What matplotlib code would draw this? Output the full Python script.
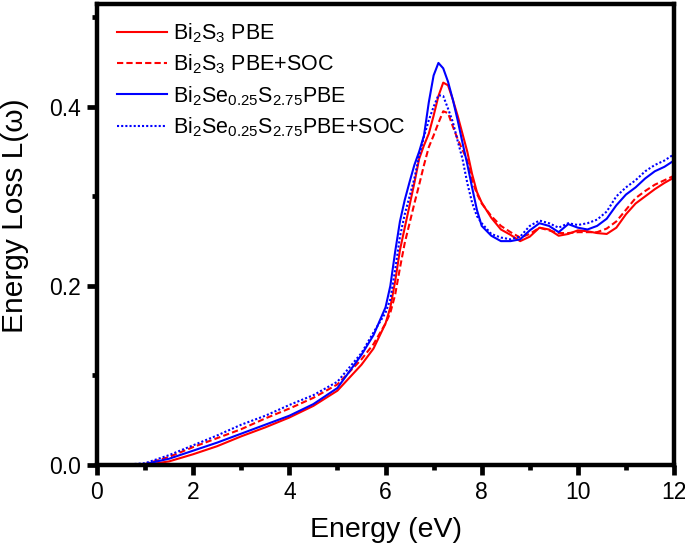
import numpy as np
import matplotlib
matplotlib.use("Agg")
import matplotlib.pyplot as plt

plt.rcParams['font.family'] = ['Liberation Sans', 'DejaVu Sans']
plt.rcParams['mathtext.fontset'] = 'custom'
plt.rcParams['mathtext.rm'] = 'Liberation Sans'
plt.rcParams['mathtext.it'] = 'Liberation Sans'

# energy grid (eV)
energy = [0.0, 0.5, 1.0, 1.5, 2.0, 2.5, 3.0, 3.5, 4.0, 4.5, 5.0, 5.5, 5.75,
          6.0, 6.1, 6.2, 6.3, 6.4, 6.5, 6.6, 6.7, 6.8, 6.9, 7.0, 7.1, 7.2,
          7.3, 7.4, 7.5, 7.6, 7.7, 7.8, 7.9, 8.0,
          8.2, 8.4, 8.6, 8.8, 9.0, 9.2, 9.4, 9.6, 9.8, 10.0, 10.2, 10.4,
          10.6, 10.8, 11.0, 11.2, 11.4, 11.6, 11.8, 12.0]

bi2s3_pbe = [0.0, 0.0, 0.0, 0.004, 0.012, 0.021, 0.032, 0.042, 0.053, 0.066,
             0.083, 0.112, 0.130,
             0.158, 0.176, 0.205, 0.240, 0.265, 0.290, 0.315, 0.342, 0.357,
             0.370, 0.390, 0.412, 0.427, 0.424, 0.408, 0.390, 0.370, 0.350,
             0.325, 0.305, 0.293,
             0.276, 0.263, 0.257, 0.250, 0.255, 0.265, 0.263, 0.256, 0.258,
             0.262, 0.261, 0.259, 0.258, 0.265, 0.280, 0.292, 0.300, 0.308,
             0.315, 0.321]

bi2s3_soc = [0.0, 0.0, 0.001, 0.009, 0.020, 0.030, 0.040, 0.052, 0.063, 0.075,
             0.090, 0.118, 0.135,
             0.158, 0.170, 0.190, 0.220, 0.248, 0.270, 0.292, 0.313, 0.335,
             0.355, 0.368, 0.382, 0.395, 0.393, 0.378, 0.364, 0.352, 0.340,
             0.318, 0.303, 0.292,
             0.278, 0.267, 0.260, 0.254, 0.258, 0.265, 0.262, 0.259, 0.259,
             0.260, 0.260, 0.260, 0.264, 0.272, 0.285, 0.298, 0.306, 0.313,
             0.318, 0.323]

bi2ses_pbe = [0.0, 0.0, 0.001, 0.007, 0.016, 0.025, 0.035, 0.045, 0.055, 0.068,
              0.086, 0.123, 0.145,
              0.176, 0.200, 0.238, 0.272, 0.296, 0.316, 0.335, 0.350, 0.368,
              0.405, 0.435, 0.449, 0.443, 0.428, 0.408, 0.385, 0.360, 0.336,
              0.310, 0.285, 0.267,
              0.256, 0.250, 0.250, 0.252, 0.262, 0.270, 0.267, 0.260, 0.269,
              0.265, 0.263, 0.267, 0.275, 0.290, 0.302, 0.310, 0.320, 0.328,
              0.333, 0.340]

bi2ses_soc = [0.0, 0.0, 0.002, 0.011, 0.022, 0.033, 0.045, 0.055, 0.067, 0.078,
              0.093, 0.125, 0.148,
              0.170, 0.185, 0.218, 0.255, 0.280, 0.300, 0.320, 0.345, 0.367,
              0.385, 0.400, 0.413, 0.412, 0.398, 0.383, 0.362, 0.342, 0.315,
              0.293, 0.278, 0.270,
              0.258, 0.254, 0.252, 0.255, 0.267, 0.273, 0.270, 0.265, 0.270,
              0.268, 0.270, 0.274, 0.283, 0.300, 0.310, 0.318, 0.328, 0.335,
              0.340, 0.347]

labels = [r'Bi$_{2}$S$_{3}$ PBE', r'Bi$_{2}$S$_{3}$ PBE+SOC',
          r'Bi$_{2}$Se$_{0.25}$S$_{2.75}$PBE', r'Bi$_{2}$Se$_{0.25}$S$_{2.75}$PBE+SOC']

fig = plt.figure(figsize=(6.85, 5.48), dpi=100)
ax = fig.add_axes([0.1416, 0.1515, 0.8424, 0.8415])

ax.plot(energy, bi2s3_pbe, color='#ff0000', lw=1.5, label=labels[0])
ax.plot(energy, bi2s3_soc, color='#ff0000', lw=1.5, ls=(0, (3, 1.5)), label=labels[1])
ax.plot(energy, bi2ses_pbe, color='#0000ff', lw=1.5, label=labels[2])
ax.plot(energy, bi2ses_soc, color='#0000ff', lw=1.5, ls=(0, (1, 1)), label=labels[3])

ax.set_xlim(0, 12)
ax.set_ylim(0, 0.515)
ax.set_xticks([0, 2, 4, 6, 8, 10, 12])
ax.set_xticks([1, 3, 5, 7, 9, 11], minor=True)
ax.set_yticks([0.0, 0.2, 0.4])
ax.set_yticks([0.1, 0.3, 0.5], minor=True)
ax.set_yticklabels(['0.0', '0.2', '0.4'])

for s in ax.spines.values():
    s.set_linewidth(3.2)
ax.tick_params(which='major', direction='out', length=7, width=3.4,
               labelsize=16.5, pad=4.5)
ax.tick_params(which='minor', direction='out', length=3.6, width=3.4)

ax.set_xlabel('Energy (eV)', fontsize=20.5)
ax.set_ylabel('Energy Loss L(ω)', fontsize=21.5)
ax.xaxis.set_label_coords(0.5, -0.113)
ax.yaxis.set_label_coords(-0.118, 0.54)

ax.legend(loc='upper left', bbox_to_anchor=(0.02, 0.98), frameon=False,
          fontsize=15.5, handlelength=2.3, handletextpad=0.3,
          labelspacing=0.35, borderaxespad=0.0, borderpad=0.4)

fig.savefig('out.png', dpi=100)
